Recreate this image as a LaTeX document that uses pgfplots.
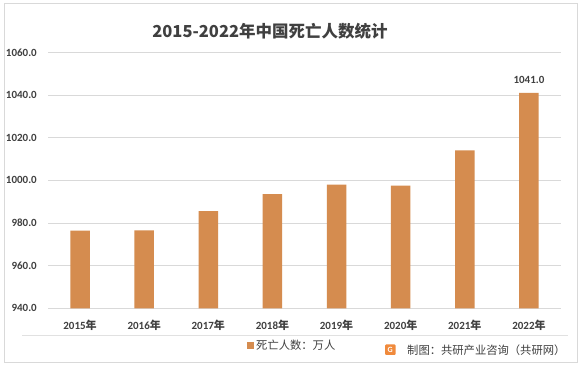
\documentclass[border=0pt]{standalone}
\usepackage{pgfplots}
\pgfplotsset{compat=1.18}
\usepackage{fontspec}
\setmainfont{Carlito}
\newfontfamily\cjk{Noto Sans CJK SC}
\definecolor{barc}{HTML}{D58C4F}
\definecolor{txt}{HTML}{404040}
\definecolor{gridc}{HTML}{D9D9D9}
\definecolor{logoc}{HTML}{F08A3C}
\begin{document}
\begin{tikzpicture}
\useasboundingbox (0bp,0bp) rectangle (585bp,369bp);
\fill[white] (0bp,0bp) rectangle (585bp,369bp);
\draw[gridc, line width=0.75bp] (4.5bp,366bp) rectangle (577bp,6.5bp);
\draw[gridc!80, line width=0.75bp] (22bp,34bp) -- (568bp,34bp);
\node[text=txt, font={\cjk\bfseries\fontsize{16.5bp}{18bp}\selectfont}] at (270bp,338bp) {2015-2022年中国死亡人数统计};
\begin{axis}[
  at={(48bp,60.7bp)}, anchor=south west, scale only axis,
  width=513bp, height=256bp,
  xmin=-0.5, xmax=7.5, ymin=940, ymax=1060,
  ytick={940,960,980,1000,1020,1040,1060},
  xtick={0,1,2,3,4,5,6,7},
  xticklabels={2015{\cjk 年},2016{\cjk 年},2017{\cjk 年},2018{\cjk 年},2019{\cjk 年},2020{\cjk 年},2021{\cjk 年},2022{\cjk 年}},
  axis line style={draw=none},
  major tick length=0pt,
  ymajorgrids,
  grid style={gridc, line width=0.75bp},
  /pgf/number format/assume math mode=true,
  /pgf/number format/1000 sep={},
  yticklabel style={/pgf/number format/.cd, fixed, fixed zerofill, precision=1, 1000 sep={}, assume math mode=true, /tikz/.cd, anchor=east, inner sep=0pt, xshift=-11bp, font={\bfseries\fontsize{11bp}{13bp}\selectfont}, text=txt},
  xticklabel style={anchor=base, inner sep=0pt, yshift=-21.5bp, font={\bfseries\fontsize{11bp}{13bp}\selectfont}, text=txt},
  legend style={at={(0.388,-0.1434)}, anchor=west, draw=none, fill=none, inner sep=0pt, font={\cjk\fontsize{11.3bp}{13bp}\selectfont}, text=txt},
  legend image code/.code={\fill[barc] (0bp,-3.5bp) rectangle (7bp,3.5bp);},
  clip=false,
]
\addplot[ybar, bar width=19.5bp, fill=barc, draw=none] coordinates {(0,976.4) (1,976.5) (2,985.6) (3,993.5) (4,998.0) (5,997.5) (6,1014.0) (7,1041.0)};
\addlegendentry{死亡人数：万人}
\addplot[draw=none, mark=none, forget plot, point meta=y,
  nodes near coords={\pgfmathprintnumber[fixed,fixed zerofill,precision=1,1000 sep={},assume math mode=true]{\pgfplotspointmeta}},
  nodes near coords style={anchor=base, inner sep=0pt, yshift=9bp, font={\bfseries\fontsize{11bp}{13bp}\selectfont}, text=txt}]
  coordinates {(7,1041.0)};
\end{axis}
\fill[logoc, rounded corners=1bp] (385bp,14bp) rectangle (395.5bp,24.5bp);
\node[text=white, font={\bfseries\fontsize{8bp}{9bp}\selectfont}, inner sep=0pt] at (390.2bp,19.2bp) {G};
\node[anchor=west, inner sep=0pt, text=txt, font={\cjk\fontsize{11.3bp}{13bp}\selectfont}] at (407bp,19bp) {制图：共研产业咨询（共研网）};
\end{tikzpicture}
\end{document}
